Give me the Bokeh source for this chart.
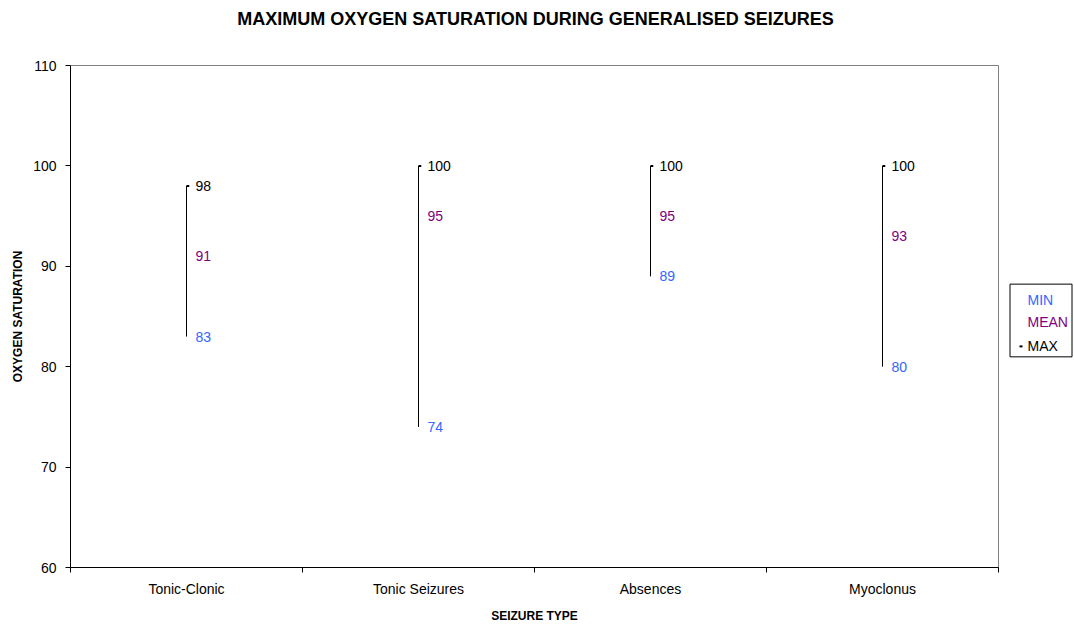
import numpy as np
from bokeh.plotting import figure
from bokeh.layouts import row, column
from bokeh.models import Range1d, FixedTicker, ColumnDataSource, Div
from bokeh.transform import dodge
from bokeh.core.properties import value
from bokeh.embed import file_html
from bokeh.resources import INLINE

# Seizure types and oxygen saturation statistics
categories = ["Tonic-Clonic", "Tonic Seizures", "Absences", "Myoclonus"]
min_vals = [83, 74, 89, 80]
mean_vals = [91, 95, 95, 93]
max_vals = [98, 100, 100, 100]
y_ticks = [60, 70, 80, 90, 100, 110]
series_names = ["MIN", "MEAN", "MAX"]
title_text = "MAXIMUM OXYGEN SATURATION DURING GENERALISED SEIZURES"

FONT = "Liberation Sans"
BLUE = "#3366FF"
PURPLE = "#800080"
series_colors = [BLUE, PURPLE, "black"]

xc = np.arange(len(categories)) + 0.5
src = ColumnDataSource(dict(
    x=xc, lo=min_vals, mid=mean_vals, hi=max_vals,
    lo_t=[str(v) for v in min_vals],
    mid_t=[str(v) for v in mean_vals],
    hi_t=[str(v) for v in max_vals],
))

# chart title as a header strip
title = Div(text=title_text, width=1074, height=34, margin=(2, 0, 0, 0),
            styles={"text-align": "center", "font-family": "'Liberation Sans'",
                    "font-size": "18px", "font-weight": "bold",
                    "line-height": "34px", "color": "black",
                    "width": "1071px", "white-space": "nowrap"})

p = figure(width=1000, height=589, output_backend="svg", toolbar_location=None,
           x_range=Range1d(0, len(categories)), y_range=Range1d(60, 110),
           min_border_left=70, min_border_right=2, min_border_top=29,
           min_border_bottom=56)
p.grid.visible = False
p.outline_line_color = "#808080"
p.outline_line_width = 1
p.background_fill_color = "white"
p.border_fill_color = "white"

# high-low lines
p.segment(x0="x", y0="lo", x1="x", y1="hi", source=src, line_color="black",
          line_width=1)
# MAX markers: short tick to the right of each line top
p.segment(x0="x", y0="hi", x1=dodge("x", 0.012, range=p.x_range), y1="hi",
          source=src, line_color="black", line_width=2)

lbl = dict(x_offset=9, text_baseline="middle", text_align="left",
           text_font=value(FONT), text_font_size="14px", source=src)
p.text(x="x", y="hi", text="hi_t", text_color="black", **lbl)
p.text(x="x", y="mid", text="mid_t", text_color=PURPLE, **lbl)
p.text(x="x", y="lo", text="lo_t", text_color=BLUE, **lbl)

# x axis: labels at category centres, ticks at category boundaries
xa = p.xaxis[0]
xa.ticker = FixedTicker(ticks=list(xc), minor_ticks=list(range(len(categories) + 1)))
xa.major_label_overrides = {float(v): c for v, c in zip(xc, categories)}
xa.major_tick_out = 0
xa.major_tick_in = 0
xa.minor_tick_out = 5
xa.minor_tick_in = 0
xa.axis_line_color = "black"
xa.minor_tick_line_color = "black"
xa.major_label_text_font = FONT
xa.major_label_text_font_size = "14px"
xa.major_label_text_color = "black"
xa.major_label_standoff = 8
xa.axis_label = "SEIZURE TYPE"
xa.axis_label_text_font = FONT
xa.axis_label_text_font_size = "12px"
xa.axis_label_text_font_style = "bold"
xa.axis_label_text_color = "black"
xa.axis_label_standoff = 9

ya = p.yaxis[0]
ya.ticker = FixedTicker(ticks=y_ticks)
ya.major_tick_out = 5
ya.major_tick_in = 0
ya.minor_tick_line_color = None
ya.axis_line_color = "black"
ya.major_tick_line_color = "black"
ya.major_label_text_font = FONT
ya.major_label_text_font_size = "14px"
ya.major_label_text_color = "black"
ya.major_label_standoff = 9
ya.axis_label = "OXYGEN SATURATION"
ya.axis_label_text_font = FONT
ya.axis_label_text_font_size = "12px"
ya.axis_label_text_font_style = "bold"
ya.axis_label_text_color = "black"
ya.axis_label_standoff = 5

# legend panel on the right; its frame lines up with the main plot frame,
# so the y range spans the same vertical extent in page pixels
lg = figure(width=74, height=589, output_backend="svg", toolbar_location=None,
            x_range=Range1d(0, 74), y_range=Range1d(569, 65),
            min_border=0, outline_line_color=None)
lg.axis.visible = False
lg.grid.visible = False
lg.border_fill_color = "white"
lg.background_fill_color = "white"
lg.quad(left=9.5, right=71.5, top=284.5, bottom=357.5, fill_color="white",
        line_color="black", line_width=1)
lg.text(x=[27, 27, 27], y=[300, 323, 347], text=series_names,
        text_color=series_colors, text_baseline="middle", text_align="left",
        text_font=value(FONT), text_font_size="14px")
lg.segment(x0=[19], y0=[347], x1=[22], y1=[347], line_color="black",
           line_width=2)

layout = column(title, row(p, lg, spacing=0), spacing=0)
open("out.html", "w").write(file_html(layout, INLINE))
